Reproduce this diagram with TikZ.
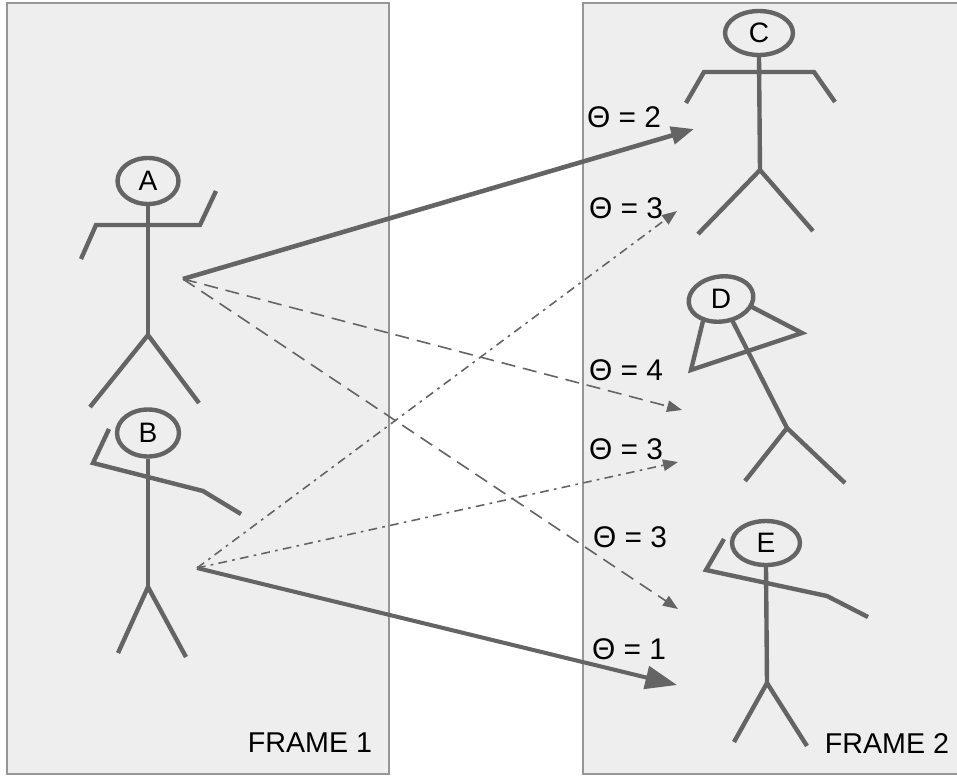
\documentclass[tikz,border=0pt]{standalone}
\usepackage{fontspec}
\setmainfont{Liberation Sans}
\usetikzlibrary{arrows.meta,shapes.geometric}
\definecolor{figgray}{RGB}{100,100,100}
\definecolor{framefill}{RGB}{238,238,238}
\definecolor{frameline}{RGB}{150,150,150}
\tikzset{
    frame/.style={draw=frameline, fill=framefill, line width=1.5pt},
    stick/.style={draw=figgray, line width=2.5pt, line join=miter},
    head/.style={ellipse, draw=figgray, line width=2.5pt, inner sep=0pt, font=\fontsize{16}{18}\selectfont},
    caption/.style={font=\fontsize{16.3}{18}\selectfont, inner sep=0pt},
    theta/.style={font=\fontsize{17}{19}\selectfont, inner sep=0pt},
    strong/.style={draw=figgray, line width=2.6pt, -{Triangle[length=13pt, width=10pt]}},
    strongbig/.style={draw=figgray, line width=2.3pt, -{Triangle[length=18pt, width=13pt]}},
    weak/.style={draw=figgray, line width=0.9pt, dash pattern=on 8pt off 4.5pt, -{Triangle[length=8.5pt, width=6.5pt]}},
    weakdot/.style={draw=figgray, line width=0.9pt, dash pattern=on 5pt off 3pt on 1.5pt off 3pt, -{Triangle[length=8.5pt, width=6.5pt]}},
}
\begin{document}
\begin{tikzpicture}[x=0.02cm, y=-0.02cm]
    \useasboundingbox (0,0) rectangle (957,775);

    % Draw frames
    \draw[frame] (7,3) rectangle (389,774);
    \draw[frame] (583,3) rectangle (962,774);
    \node[caption] (frame1) at (310,743) {FRAME 1};
    \node[caption] (frame2) at (887,743) {FRAME 2};

    % Figure A
    \node[head, minimum width=1.22cm, minimum height=0.92cm] (A) at (148,181) {A};
    \draw[stick] (A.south) -- (148,335);
    \draw[stick] (81,259) -- (96,225) -- (200,225) -- (216,191);
    \draw[stick] (90,407) -- (148,335) -- (199,403);

    % Figure B
    \node[head, minimum width=1.24cm, minimum height=0.94cm] (B) at (148,433) {B};
    \draw[stick] (B.south) -- (148,587);
    \draw[stick] (109,429) -- (93,463) -- (203,491) -- (241,514);
    \draw[stick] (118,653) -- (148,587) -- (186,657);

    % Figure C
    \node[head, minimum width=1.36cm, minimum height=0.88cm] (C) at (759,33) {C};
    \draw[stick] (C.south) -- (760,170);
    \draw[stick] (686,103) -- (704,72) -- (814,72) -- (835,102);
    \draw[stick] (698,234) -- (760,170) -- (813,231);

    % Figure D
    \node[head, rotate=8, minimum width=1.3cm, minimum height=0.9cm] (D) at (721,299) {\rotatebox{-8}{D}};
    \draw[stick] (703,321) -- (691,370) -- (802,333) -- (752,307);
    \draw[stick] (732,320) -- (787,428);
    \draw[stick] (745,481) -- (787,428) -- (845,483);

    % Figure E
    \node[head, minimum width=1.36cm, minimum height=0.88cm] (E) at (766,543) {E};
    \draw[stick] (E.south) -- (767,683);
    \draw[stick] (724,539) -- (706,570) -- (827,596) -- (868,617);
    \draw[stick] (734,742) -- (767,683) -- (807,746);

    % Arrow ends
    \coordinate (startA) at (183,279);
    \coordinate (startB) at (197,568);
    \coordinate (tipC) at (694,129);
    \coordinate (tipCb) at (677,211);
    \coordinate (tipD) at (682,410);
    \coordinate (tipDb) at (678,462);
    \coordinate (tipE) at (678,609);
    \coordinate (tipEb) at (677,685);

    % Draw matches
    \draw[strong] (startA) -- (tipC);
    \draw[weak] (startA) -- (tipD);
    \draw[weak] (startA) -- (tipE);
    \draw[strongbig] (startB) -- (tipEb);
    \draw[weakdot] (startB) -- (tipCb);
    \draw[weakdot] (startB) -- (tipDb);

    % Theta values
    \node[theta] (thetaAC) at (624,117) {Θ = 2};
    \node[theta] (thetaBC) at (626,208) {Θ = 3};
    \node[theta] (thetaAD) at (626,370) {Θ = 4};
    \node[theta] (thetaBD) at (626,449) {Θ = 3};
    \node[theta] (thetaAE) at (630,537) {Θ = 3};
    \node[theta] (thetaBE) at (629,649) {Θ = 1};
\end{tikzpicture}
\end{document}
